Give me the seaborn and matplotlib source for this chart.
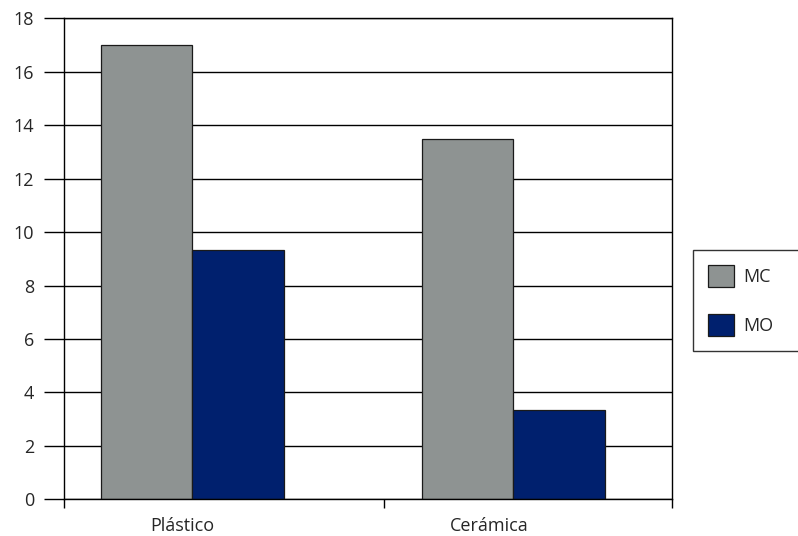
import matplotlib
matplotlib.use("Agg")
import matplotlib.pyplot as plt
import seaborn as sns
import pandas as pd
from matplotlib.ticker import FixedLocator

# Values per material and measurement series
materials = ["Plástico", "Cerámica"]
series = ["MC", "MO"]
mc_values = [17.0, 13.5]
mo_values = [9.33, 3.35]
y_ticks = [0, 2, 4, 6, 8, 10, 12, 14, 16, 18]

df = pd.DataFrame({
    "material": materials * 2,
    "serie": [series[0]] * len(materials) + [series[1]] * len(materials),
    "valor": mc_values + mo_values,
})

sns.set_theme(style="white")
plt.rcParams["font.family"] = ["Open Sans", "DejaVu Sans"]

fig = plt.figure(figsize=(7.98, 5.36), dpi=100)
W, H = 798, 536
ax = fig.add_axes([64 / W, (H - 499.3) / H, 608 / W, 481 / H])

sns.barplot(data=df, x="material", y="valor", hue="serie",
            palette=["#8E9392", "#00206E"], width=0.57,
            edgecolor="#1a1a1a", linewidth=0.9, saturation=1,
            ax=ax, legend=True)

ax.set_xlim(-0.399, 1.495)
ax.set_ylim(0, 18)
ax.set_xlabel("")
ax.set_ylabel("")

# y axis: ticks pointing outward, black grid at every label
ax.set_yticks(y_ticks)
ax.set_yticklabels([str(v) for v in y_ticks], fontsize=13)
ax.tick_params(axis="y", direction="out", length=14.4, width=1,
               color="black", pad=7, left=True)
ax.yaxis.grid(True, color="black", linewidth=1)
ax.set_axisbelow(True)

# x axis: category labels without ticks, short ticks on category borders
ax.set_xticks([-0.031, 0.925])
ax.set_xticklabels(materials, fontsize=13)
ax.tick_params(axis="x", length=0, pad=13)
ax.xaxis.set_minor_locator(FixedLocator([-0.398, 0.598, 1.494]))
ax.tick_params(axis="x", which="minor", direction="out", length=6.5,
               width=1, color="black", bottom=True)

for s in ax.spines.values():
    s.set_color("black")
    s.set_linewidth(1)
    s.set_visible(True)

# legend box runs off the right edge of the figure
handles, labels = ax.get_legend_handles_labels()
ax.legend_.remove()
leg = fig.legend(handles, labels, loc="upper left", mode="expand",
                 bbox_to_anchor=(693 / W, (H - 354) / H, 130 / W, 104 / H),
                 fontsize=13, frameon=True, fancybox=False,
                 edgecolor="black", handlelength=1.43, handleheight=1.47,
                 labelspacing=1.5, borderpad=0.85, handletextpad=0.5,
                 borderaxespad=0)
leg.get_frame().set_linewidth(1)

fig.savefig("out.png", dpi=100)
